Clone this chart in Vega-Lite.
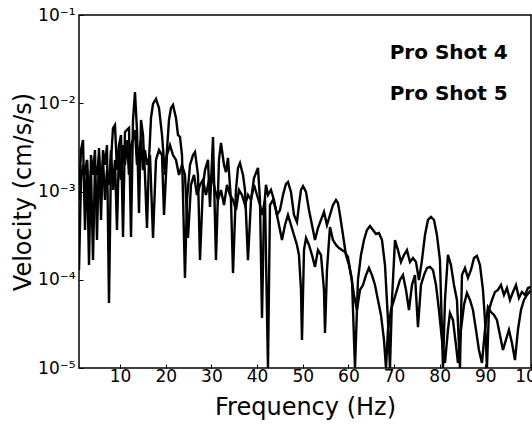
{
  "$schema": "https://vega.github.io/schema/vega-lite/v6.json",
  "width": 452,
  "height": 353,
  "autosize": {"type": "none"},
  "padding": {"left": 79, "top": 15, "right": 1, "bottom": 60},
  "background": "white",
  "config": {"view": {"stroke": "black", "strokeWidth": 1.5}, "font": "DejaVu Sans"},
  "datasets": {
    "spec": [
      {"s":"A","f":1.00,"v":0.000801},{"s":"A","f":1.44,"v":0.00295},{"s":"A","f":1.88,"v":0.00383},{"s":"A","f":2.31,"v":0.000366},{"s":"A","f":2.75,"v":0.00228},{"s":"A","f":3.19,"v":0.000147},{"s":"A","f":3.63,"v":0.00259},{"s":"A","f":4.07,"v":0.00154},{"s":"A","f":4.50,"v":0.00295},{"s":"A","f":4.94,"v":0.000282},{"s":"A","f":5.38,"v":0.00311},{"s":"A","f":5.82,"v":0.000476},{"s":"A","f":6.26,"v":0.00295},{"s":"A","f":6.69,"v":0.00200},{"s":"A","f":7.13,"v":0.00336},{"s":"A","f":7.57,"v":0.0000545},{"s":"A","f":8.01,"v":0.00228},{"s":"A","f":8.45,"v":0.00524},{"s":"A","f":8.88,"v":0.00567},{"s":"A","f":9.32,"v":0.00175},{"s":"A","f":9.76,"v":0.00336},{"s":"A","f":10.20,"v":0.00437},{"s":"A","f":10.64,"v":0.000305},{"s":"A","f":11.07,"v":0.00472},{"s":"A","f":11.51,"v":0.00498},{"s":"A","f":11.95,"v":0.00524},{"s":"A","f":12.39,"v":0.000305},{"s":"A","f":12.83,"v":0.00646},{"s":"A","f":13.26,"v":0.0134},{"s":"A","f":13.70,"v":0.00498},{"s":"A","f":14.14,"v":0.000571},{"s":"A","f":14.58,"v":0.00646},{"s":"A","f":15.02,"v":0.00437},{"s":"A","f":15.45,"v":0.00154},{"s":"A","f":15.89,"v":0.000386},{"s":"A","f":16.33,"v":0.00228},{"s":"A","f":16.77,"v":0.00681},{"s":"A","f":17.21,"v":0.00981},{"s":"A","f":17.86,"v":0.0112},{"s":"A","f":18.52,"v":0.00884},{"s":"A","f":19.18,"v":0.00437},{"s":"A","f":19.83,"v":0.00154},{"s":"A","f":20.27,"v":0.00295},{"s":"A","f":20.71,"v":0.00646},{"s":"A","f":21.15,"v":0.00884},{"s":"A","f":21.59,"v":0.00955},{"s":"A","f":22.24,"v":0.00681},{"s":"A","f":22.68,"v":0.00437},{"s":"A","f":23.12,"v":0.00415},{"s":"A","f":23.56,"v":0.00259},{"s":"A","f":24.21,"v":0.000105},{"s":"A","f":24.65,"v":0.000801},{"s":"A","f":25.31,"v":0.00200},{"s":"A","f":25.97,"v":0.00259},{"s":"A","f":26.41,"v":0.00280},{"s":"A","f":27.06,"v":0.00154},{"s":"A","f":27.50,"v":0.000167},{"s":"A","f":28.16,"v":0.00119},{"s":"A","f":28.60,"v":0.00175},{"s":"A","f":29.25,"v":0.00228},{"s":"A","f":29.69,"v":0.000668},{"s":"A","f":30.35,"v":0.00415},{"s":"A","f":31.00,"v":0.000167},{"s":"A","f":31.66,"v":0.00228},{"s":"A","f":32.10,"v":0.00355},{"s":"A","f":32.76,"v":0.00200},{"s":"A","f":33.19,"v":0.00166},{"s":"A","f":33.63,"v":0.00240},{"s":"A","f":34.29,"v":0.000801},{"s":"A","f":34.73,"v":0.000119},{"s":"A","f":35.38,"v":0.00104},{"s":"A","f":35.82,"v":0.00185},{"s":"A","f":36.26,"v":0.00210},{"s":"A","f":36.92,"v":0.00154},{"s":"A","f":37.36,"v":0.00104},{"s":"A","f":38.01,"v":0.000167},{"s":"A","f":38.67,"v":0.000801},{"s":"A","f":39.33,"v":0.00142},{"s":"A","f":40.20,"v":0.00185},{"s":"A","f":40.64,"v":0.000801},{"s":"A","f":41.08,"v":0.0000369},{"s":"A","f":41.52,"v":0.000617},{"s":"A","f":41.95,"v":0.00119},{"s":"A","f":42.39,"v":0.000913},{"s":"A","f":43.05,"v":0.00104},{"s":"A","f":43.71,"v":0.000801},{"s":"A","f":44.36,"v":0.000542},{"s":"A","f":45.02,"v":0.000617},{"s":"A","f":45.68,"v":0.000913},{"s":"A","f":46.33,"v":0.00122},{"s":"A","f":46.77,"v":0.00128},{"s":"A","f":47.43,"v":0.000987},{"s":"A","f":48.09,"v":0.000542},{"s":"A","f":48.74,"v":0.000451},{"s":"A","f":49.18,"v":0.000703},{"s":"A","f":49.62,"v":0.00104},{"s":"A","f":50.06,"v":0.00115},{"s":"A","f":50.72,"v":0.000987},{"s":"A","f":51.37,"v":0.000617},{"s":"A","f":52.03,"v":0.000417},{"s":"A","f":52.69,"v":0.000282},{"s":"A","f":53.34,"v":0.000386},{"s":"A","f":54.00,"v":0.000476},{"s":"A","f":54.66,"v":0.000586},{"s":"A","f":55.31,"v":0.000417},{"s":"A","f":55.97,"v":0.000542},{"s":"A","f":56.63,"v":0.000703},{"s":"A","f":57.29,"v":0.000801},{"s":"A","f":57.72,"v":0.000741},{"s":"A","f":58.16,"v":0.000542},{"s":"A","f":58.82,"v":0.000321},{"s":"A","f":59.47,"v":0.000191},{"s":"A","f":60.13,"v":0.000147},{"s":"A","f":60.79,"v":0.0000994},{"s":"A","f":61.45,"v":0.00001},{"s":"A","f":62.10,"v":0.0000994},{"s":"A","f":62.76,"v":0.000191},{"s":"A","f":63.42,"v":0.000282},{"s":"A","f":64.07,"v":0.000366},{"s":"A","f":64.73,"v":0.000407},{"s":"A","f":65.39,"v":0.000366},{"s":"A","f":66.05,"v":0.000330},{"s":"A","f":66.70,"v":0.000339},{"s":"A","f":67.36,"v":0.000282},{"s":"A","f":68.02,"v":0.000147},{"s":"A","f":68.67,"v":0.0000350},{"s":"A","f":69.11,"v":0.00001},{"s":"A","f":69.55,"v":0.0000590},{"s":"A","f":70.21,"v":0.000282},{"s":"A","f":70.86,"v":0.000217},{"s":"A","f":71.52,"v":0.000159},{"s":"A","f":72.18,"v":0.000191},{"s":"A","f":72.83,"v":0.000217},{"s":"A","f":73.49,"v":0.000159},{"s":"A","f":74.15,"v":0.000176},{"s":"A","f":74.81,"v":0.000159},{"s":"A","f":75.46,"v":0.0000994},{"s":"A","f":76.12,"v":0.000167},{"s":"A","f":76.78,"v":0.000321},{"s":"A","f":77.43,"v":0.000476},{"s":"A","f":78.09,"v":0.000514},{"s":"A","f":78.75,"v":0.000476},{"s":"A","f":79.40,"v":0.000321},{"s":"A","f":80.06,"v":0.000167},{"s":"A","f":80.72,"v":0.00001},{"s":"A","f":81.16,"v":0.0000590},{"s":"A","f":81.81,"v":0.000191},{"s":"A","f":82.47,"v":0.000147},{"s":"A","f":83.13,"v":0.0000872},{"s":"A","f":83.78,"v":0.0000590},{"s":"A","f":84.44,"v":0.00001},{"s":"A","f":84.88,"v":0.000113},{"s":"A","f":85.54,"v":0.000136},{"s":"A","f":86.19,"v":0.000105},{"s":"A","f":86.85,"v":0.000129},{"s":"A","f":87.51,"v":0.000176},{"s":"A","f":88.16,"v":0.000186},{"s":"A","f":88.82,"v":0.000147},{"s":"A","f":89.48,"v":0.0000766},{"s":"A","f":89.92,"v":0.0000350},{"s":"A","f":90.35,"v":0.00001},{"s":"A","f":90.79,"v":0.0000454},{"s":"A","f":91.45,"v":0.0000590},{"s":"A","f":92.11,"v":0.0000727},{"s":"A","f":92.76,"v":0.0000766},{"s":"A","f":93.42,"v":0.0000872},{"s":"A","f":94.08,"v":0.0000672},{"s":"A","f":94.73,"v":0.0000806},{"s":"A","f":95.39,"v":0.0000590},{"s":"A","f":96.05,"v":0.0000727},{"s":"A","f":96.71,"v":0.0000872},{"s":"A","f":97.36,"v":0.0000621},{"s":"A","f":98.02,"v":0.0000727},{"s":"A","f":98.68,"v":0.0000672},{"s":"A","f":99.34,"v":0.0000806},{"s":"A","f":100.0,"v":0.0000828},
      {"s":"B","f":1.00,"v":0.000129},{"s":"B","f":1.44,"v":0.00135},{"s":"B","f":1.88,"v":0.00200},{"s":"B","f":2.31,"v":0.00154},{"s":"B","f":2.75,"v":0.00228},{"s":"B","f":3.19,"v":0.000801},{"s":"B","f":3.63,"v":0.00175},{"s":"B","f":4.07,"v":0.000167},{"s":"B","f":4.50,"v":0.00200},{"s":"B","f":4.94,"v":0.00154},{"s":"B","f":5.38,"v":0.00259},{"s":"B","f":5.82,"v":0.00119},{"s":"B","f":6.26,"v":0.00228},{"s":"B","f":6.69,"v":0.000801},{"s":"B","f":7.13,"v":0.00175},{"s":"B","f":7.57,"v":0.00119},{"s":"B","f":8.01,"v":0.00295},{"s":"B","f":8.45,"v":0.00104},{"s":"B","f":8.88,"v":0.00228},{"s":"B","f":9.32,"v":0.000366},{"s":"B","f":9.76,"v":0.00295},{"s":"B","f":10.20,"v":0.00135},{"s":"B","f":10.64,"v":0.00336},{"s":"B","f":11.07,"v":0.00200},{"s":"B","f":11.51,"v":0.00383},{"s":"B","f":11.95,"v":0.00154},{"s":"B","f":12.39,"v":0.00336},{"s":"B","f":12.83,"v":0.00383},{"s":"B","f":13.26,"v":0.00498},{"s":"B","f":13.70,"v":0.00200},{"s":"B","f":14.14,"v":0.00295},{"s":"B","f":14.58,"v":0.00383},{"s":"B","f":15.02,"v":0.00175},{"s":"B","f":15.45,"v":0.00295},{"s":"B","f":15.89,"v":0.00200},{"s":"B","f":16.55,"v":0.00259},{"s":"B","f":17.21,"v":0.000297},{"s":"B","f":17.86,"v":0.00228},{"s":"B","f":18.52,"v":0.00295},{"s":"B","f":19.18,"v":0.00259},{"s":"B","f":19.62,"v":0.000542},{"s":"B","f":20.27,"v":0.00259},{"s":"B","f":20.93,"v":0.00336},{"s":"B","f":21.59,"v":0.00259},{"s":"B","f":22.24,"v":0.00228},{"s":"B","f":22.90,"v":0.00154},{"s":"B","f":23.56,"v":0.00200},{"s":"B","f":24.21,"v":0.00154},{"s":"B","f":24.87,"v":0.000297},{"s":"B","f":25.53,"v":0.00119},{"s":"B","f":26.19,"v":0.00154},{"s":"B","f":26.84,"v":0.000913},{"s":"B","f":27.50,"v":0.00119},{"s":"B","f":28.16,"v":0.00135},{"s":"B","f":28.81,"v":0.000913},{"s":"B","f":29.47,"v":0.00135},{"s":"B","f":30.13,"v":0.00154},{"s":"B","f":30.79,"v":0.00104},{"s":"B","f":31.44,"v":0.000801},{"s":"B","f":32.10,"v":0.00104},{"s":"B","f":32.76,"v":0.000703},{"s":"B","f":33.41,"v":0.00119},{"s":"B","f":34.07,"v":0.000913},{"s":"B","f":34.73,"v":0.000801},{"s":"B","f":35.38,"v":0.000617},{"s":"B","f":36.04,"v":0.00104},{"s":"B","f":36.70,"v":0.000913},{"s":"B","f":37.36,"v":0.000703},{"s":"B","f":38.01,"v":0.000913},{"s":"B","f":38.67,"v":0.000801},{"s":"B","f":39.33,"v":0.00119},{"s":"B","f":39.98,"v":0.000913},{"s":"B","f":40.64,"v":0.000703},{"s":"B","f":41.08,"v":0.000542},{"s":"B","f":41.74,"v":0.000801},{"s":"B","f":42.39,"v":0.00001},{"s":"B","f":42.83,"v":0.000703},{"s":"B","f":43.49,"v":0.000801},{"s":"B","f":44.14,"v":0.000617},{"s":"B","f":44.80,"v":0.000417},{"s":"B","f":45.46,"v":0.000282},{"s":"B","f":46.12,"v":0.000417},{"s":"B","f":46.77,"v":0.000542},{"s":"B","f":47.43,"v":0.000417},{"s":"B","f":48.09,"v":0.000321},{"s":"B","f":48.74,"v":0.000248},{"s":"B","f":49.18,"v":0.000191},{"s":"B","f":49.62,"v":0.0000766},{"s":"B","f":49.84,"v":0.0000208},{"s":"B","f":50.28,"v":0.000217},{"s":"B","f":50.72,"v":0.000297},{"s":"B","f":51.37,"v":0.000248},{"s":"B","f":52.03,"v":0.000191},{"s":"B","f":52.69,"v":0.000140},{"s":"B","f":53.34,"v":0.000217},{"s":"B","f":54.00,"v":0.000191},{"s":"B","f":54.66,"v":0.0000766},{"s":"B","f":54.88,"v":0.0000249},{"s":"B","f":55.31,"v":0.000129},{"s":"B","f":55.97,"v":0.000396},{"s":"B","f":56.63,"v":0.000282},{"s":"B","f":57.29,"v":0.000248},{"s":"B","f":57.94,"v":0.000229},{"s":"B","f":58.60,"v":0.000217},{"s":"B","f":59.26,"v":0.000206},{"s":"B","f":59.91,"v":0.000181},{"s":"B","f":60.57,"v":0.000113},{"s":"B","f":61.23,"v":0.0000672},{"s":"B","f":61.88,"v":0.0000454},{"s":"B","f":62.54,"v":0.0000766},{"s":"B","f":63.20,"v":0.0000872},{"s":"B","f":63.86,"v":0.000113},{"s":"B","f":64.51,"v":0.000136},{"s":"B","f":65.17,"v":0.000113},{"s":"B","f":65.83,"v":0.0000872},{"s":"B","f":66.48,"v":0.0000590},{"s":"B","f":67.14,"v":0.0000399},{"s":"B","f":67.80,"v":0.0000208},{"s":"B","f":68.24,"v":0.00001},{"s":"B","f":68.67,"v":0.0000270},{"s":"B","f":69.33,"v":0.0000454},{"s":"B","f":69.99,"v":0.0000590},{"s":"B","f":70.64,"v":0.0000766},{"s":"B","f":71.30,"v":0.0000994},{"s":"B","f":71.96,"v":0.000113},{"s":"B","f":72.62,"v":0.0000766},{"s":"B","f":73.27,"v":0.0000454},{"s":"B","f":73.93,"v":0.0000872},{"s":"B","f":74.59,"v":0.000113},{"s":"B","f":75.24,"v":0.0000291},{"s":"B","f":75.90,"v":0.0000872},{"s":"B","f":76.56,"v":0.000113},{"s":"B","f":77.21,"v":0.000136},{"s":"B","f":77.87,"v":0.000140},{"s":"B","f":78.53,"v":0.000129},{"s":"B","f":79.19,"v":0.0000872},{"s":"B","f":79.84,"v":0.0000454},{"s":"B","f":80.50,"v":0.0000208},{"s":"B","f":81.16,"v":0.0000114},{"s":"B","f":81.81,"v":0.0000270},{"s":"B","f":82.25,"v":0.0000420},{"s":"B","f":82.91,"v":0.0000350},{"s":"B","f":83.57,"v":0.0000182},{"s":"B","f":84.00,"v":0.0000114},{"s":"B","f":84.66,"v":0.0000270},{"s":"B","f":85.32,"v":0.0000517},{"s":"B","f":85.97,"v":0.0000708},{"s":"B","f":86.63,"v":0.0000590},{"s":"B","f":87.29,"v":0.0000454},{"s":"B","f":87.95,"v":0.0000270},{"s":"B","f":88.60,"v":0.0000160},{"s":"B","f":89.26,"v":0.0000114},{"s":"B","f":89.92,"v":0.0000270},{"s":"B","f":90.57,"v":0.0000491},{"s":"B","f":91.23,"v":0.0000431},{"s":"B","f":91.89,"v":0.0000399},{"s":"B","f":92.54,"v":0.0000350},{"s":"B","f":93.20,"v":0.0000237},{"s":"B","f":93.86,"v":0.0000160},{"s":"B","f":94.51,"v":0.0000208},{"s":"B","f":95.17,"v":0.0000270},{"s":"B","f":95.83,"v":0.0000192},{"s":"B","f":96.49,"v":0.0000123},{"s":"B","f":97.14,"v":0.0000270},{"s":"B","f":97.80,"v":0.0000454},{"s":"B","f":98.46,"v":0.0000590},{"s":"B","f":99.12,"v":0.0000672},{"s":"B","f":100.0,"v":0.0000766}
    ],
    "legend": [
      {"label": "Pro Shot 4", "f": 94.9, "v": 0.0375},
      {"label": "Pro Shot 5", "f": 94.9, "v": 0.0128}
    ]
  },
  "layer": [
    {
      "data": {"name": "spec"},
      "mark": {"type": "line", "color": "black", "strokeWidth": 2.4, "clip": true},
      "encoding": {
        "x": {
          "field": "f", "type": "quantitative",
          "scale": {"domain": [1, 100], "nice": false, "zero": false},
          "axis": {
            "title": "Frequency (Hz)", "values": [10, 20, 30, 40, 50, 60, 70, 80, 90, 100],
            "grid": false, "domain": false, "tickColor": "black", "tickSize": -4,
            "labelFontSize": 17, "labelColor": "black", "labelPadding": 4,
            "labelOverlap": false, "labelFlush": false, "labelBound": false,
            "titleFontSize": 24, "titleFontWeight": "normal", "titleColor": "black", "titlePadding": 11
          }
        },
        "y": {
          "field": "v", "type": "quantitative",
          "scale": {"type": "log", "domain": [0.00001, 0.1], "nice": false},
          "axis": {
            "title": "Velocity (cm/s/s)", "values": [0.00001, 0.0001, 0.001, 0.01, 0.1],
            "labelExpr": "datum.value > 0.05 ? '10⁻¹' : datum.value > 0.005 ? '10⁻²' : datum.value > 0.0005 ? '10⁻³' : datum.value > 0.00005 ? '10⁻⁴' : '10⁻⁵'",
            "grid": false, "domain": false, "tickColor": "black", "tickSize": -4,
            "labelFontSize": 17, "labelColor": "black", "labelPadding": 8,
            "labelOverlap": false, "labelFlush": false, "labelBound": false,
            "titleFontSize": 24, "titleFontWeight": "normal", "titleColor": "black", "titlePadding": 2
          }
        },
        "detail": {"field": "s", "type": "nominal"}
      }
    },
    {
      "data": {"name": "legend"},
      "mark": {"type": "text", "align": "right", "baseline": "middle", "fontSize": 20, "fontWeight": "bold", "color": "black"},
      "encoding": {
        "x": {"field": "f", "type": "quantitative"},
        "y": {"field": "v", "type": "quantitative"},
        "text": {"field": "label", "type": "nominal"}
      }
    }
  ]
}
